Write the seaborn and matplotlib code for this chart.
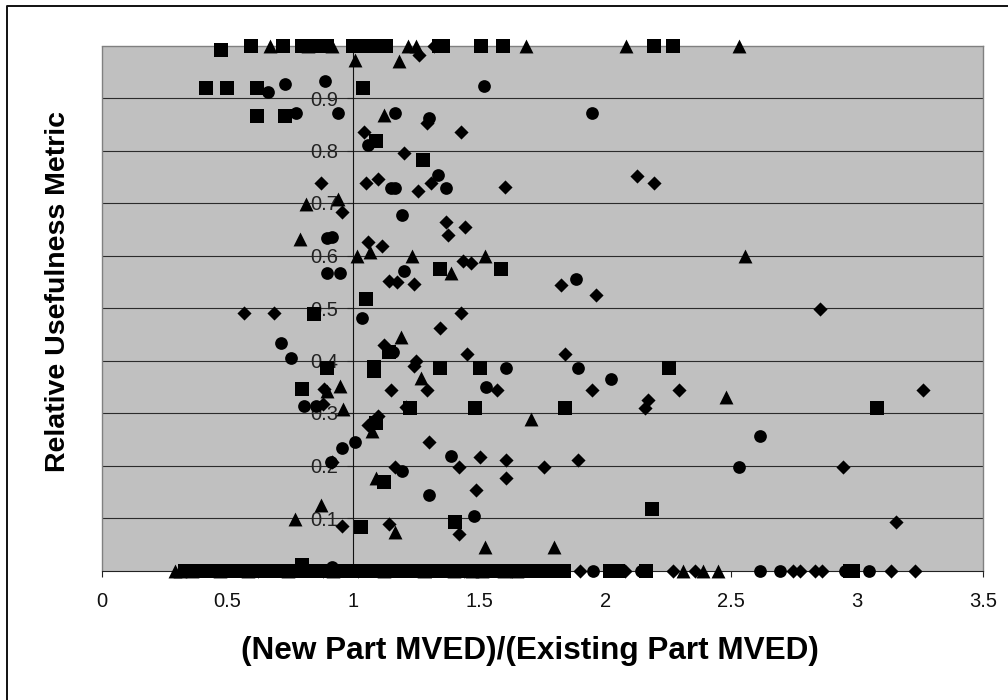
import numpy as np
import pandas as pd
import matplotlib
matplotlib.use("Agg")
import matplotlib.pyplot as plt
from matplotlib.patches import Rectangle
from matplotlib.lines import Line2D
import seaborn as sns

# ---- data -----------------------------------------------------------------
diamond_x = [0.997,1.321,1.262,1.292,1.427,1.044,1.202,0.871,1.052,1.099,1.255,1.308,1.601,2.126,2.193,
             0.954,1.369,1.443,1.374,1.06,1.113,1.142,1.173,1.239,1.434,1.467,1.825,1.962,2.854,
             0.565,0.685,1.427,1.345,1.12,1.451,1.841,1.248,1.239,1.294,1.149,1.57,1.946,2.292,3.261,
             2.17,2.156,0.884,0.88,1.209,1.099,1.06,0.916,1.3,1.503,1.608,1.421,1.758,1.893,2.945,
             1.608,1.488,1.165,3.153,0.954,1.142,1.421]
diamond_y = [1.0,1.0,0.981,0.853,0.836,0.836,0.796,0.738,0.738,0.745,0.723,0.738,0.731,0.752,0.738,
             0.683,0.663,0.654,0.64,0.625,0.618,0.552,0.549,0.545,0.589,0.586,0.543,0.525,0.498,
             0.491,0.491,0.491,0.462,0.43,0.412,0.412,0.4,0.389,0.343,0.343,0.343,0.343,0.343,0.343,
             0.325,0.31,0.346,0.317,0.311,0.295,0.278,0.206,0.244,0.216,0.211,0.198,0.198,0.211,0.198,
             0.176,0.154,0.198,0.093,0.084,0.089,0.07]
square_x = [0.474,0.594,0.721,0.798,0.824,0.844,0.897,0.997,1.03,1.056,1.083,1.109,1.129,1.341,1.355,1.507,1.593,2.194,2.269,
            0.415,0.497,0.616,1.038,0.618,0.729,1.089,1.278,1.345,1.586,1.052,0.843,1.14,
            0.895,1.083,1.083,1.344,1.503,2.253,0.798,1.223,1.481,1.841,3.079,1.089,1.12,2.186,1.03,1.405,0.798]
square_y = [0.992,1.0,1.0,1.0,1.0,1.0,1.0,1.0,1.0,1.0,1.0,1.0,1.0,1.0,1.0,1.0,1.0,1.0,1.0,
            0.919,0.919,0.919,0.919,0.865,0.865,0.818,0.782,0.575,0.575,0.517,0.488,0.416,
            0.386,0.387,0.38,0.386,0.386,0.386,0.346,0.31,0.31,0.31,0.31,0.281,0.169,0.118,0.082,0.093,0.01]
triangle_x = [0.671,0.818,0.917,1.218,1.25,1.685,2.081,2.531,1.007,1.18,1.12,0.94,0.812,0.79,1.014,1.067,1.233,1.524,2.554,
              1.389,1.189,1.27,2.478,0.894,0.948,0.957,1.706,1.076,1.09,0.871,0.769,1.165,1.524,1.796]
triangle_y = [1.0,1.0,1.0,1.0,1.0,1.0,1.0,1.0,0.973,0.971,0.868,0.707,0.698,0.632,0.6,0.606,0.6,0.6,0.6,
              0.567,0.444,0.367,0.331,0.342,0.352,0.308,0.288,0.265,0.176,0.124,0.098,0.073,0.044,0.044]
circle_x = [0.661,0.729,0.887,1.518,1.948,0.774,0.938,1.164,1.299,1.059,1.336,1.149,1.166,1.368,1.194,
            0.895,0.917,0.895,0.946,1.202,1.885,1.036,0.713,0.751,1.156,1.608,1.893,2.021,1.526,
            0.805,0.851,1.006,0.954,0.913,1.389,2.53,2.614,1.194,1.299,1.48,0.917]
circle_y = [0.912,0.927,0.933,0.923,0.872,0.872,0.872,0.872,0.862,0.811,0.753,0.728,0.728,0.728,0.677,
            0.634,0.636,0.567,0.567,0.571,0.556,0.481,0.434,0.404,0.416,0.386,0.386,0.364,0.35,
            0.314,0.314,0.245,0.234,0.206,0.219,0.198,0.256,0.19,0.143,0.103,0.006]

# parts whose usefulness is zero: the crowded strip along the x axis
diamond_zero_x = [0.62,0.88,1.02,1.31,1.44,1.63,1.898,2.077,2.269,2.355,2.746,2.773,2.832,2.859,3.133,3.23]
square_zero_x = [0.33,0.365,0.40,0.435,0.47,0.505,0.54,0.575,0.61,0.645,0.68,0.715,0.75,0.785,0.82,0.855,0.89,0.925,0.96,0.995,
                 1.03,1.065,1.10,1.135,1.17,1.205,1.24,1.275,1.31,1.345,1.38,1.415,1.45,1.487,1.525,1.56,1.595,1.64,1.675,
                 1.71,1.745,1.78,1.81,1.835,2.02,2.05,2.163,2.971,2.985]
triangle_zero_x = [0.292,0.31,0.36,0.47,0.58,0.74,0.92,1.12,1.28,1.4,1.47,1.51,1.6,1.65,2.309,2.388,2.448]
circle_zero_x = [0.55,0.79,1.08,1.36,1.951,2.143,2.614,2.693,2.951,3.048]

x_ticks = [0, 0.5, 1, 1.5, 2, 2.5, 3, 3.5]
x_tick_labels = ["0", "0.5", "1", "1.5", "2", "2.5", "3", "3.5"]
y_ticks = [0.1, 0.2, 0.3, 0.4, 0.5, 0.6, 0.7, 0.8, 0.9]
y_tick_labels = ["0.1", "0.2", "0.3", "0.4", "0.5", "0.6", "0.7", "0.8", "0.9"]

def frame(name, xs, ys, zero_xs):
    return pd.DataFrame({"x": list(xs) + list(zero_xs),
                         "y": list(ys) + [0.0] * len(zero_xs),
                         "series": name})

data = pd.concat([frame("diamond", diamond_x, diamond_y, diamond_zero_x),
                  frame("square", square_x, square_y, square_zero_x),
                  frame("triangle", triangle_x, triangle_y, triangle_zero_x),
                  frame("circle", circle_x, circle_y, circle_zero_x)], ignore_index=True)

sns.set_theme(style="white")
plt.rcParams["font.family"] = ["Liberation Sans", "DejaVu Sans"]

W, H = 1008, 700
fig = plt.figure(figsize=(W / 100, H / 100), dpi=100, facecolor="white")
L, R, T, B = 101.5, 983, 45.5, 570.5
ax = fig.add_axes([L / W, 1 - B / H, (R - L) / W, (B - T) / H], facecolor="#C0C0C0")

sizes = {"diamond": 52, "square": 88, "triangle": 100, "circle": 84}
markers = {"diamond": "D", "square": "s", "triangle": "^", "circle": "o"}
for name, group in data.groupby("series", sort=False):
    sns.scatterplot(data=group, x="x", y="y", marker=markers[name], s=sizes[name],
                    color="black", linewidth=0, clip_on=False, zorder=3, ax=ax, legend=False)

ax.set_xlim(0, 3.5)
ax.set_ylim(0, 1.0)
ax.set_axisbelow(True)
ax.set_xticks(x_ticks, x_tick_labels)
ax.set_yticks(y_ticks, y_tick_labels)
ax.yaxis.grid(True, color="#2b2b2b", lw=0.8)
ax.xaxis.grid(False)

ax.tick_params(axis="x", direction="out", length=4.2, width=0.8, color="#222222",
               labelsize=14.5, labelcolor="#111111", pad=11, bottom=True)
ax.tick_params(axis="y", direction="out", length=4.2, width=0.8, color="#222222",
               labelsize=14.5, labelcolor="#222222", pad=6.5, left=True)

for s in ("top", "right"):
    ax.spines[s].set_color("#808080")
    ax.spines[s].set_linewidth(1.0)
ax.spines["bottom"].set_color("#222222")
ax.spines["bottom"].set_linewidth(0.8)
ax.spines["left"].set_position(("data", 1))
ax.spines["left"].set_color("#111111")
ax.spines["left"].set_linewidth(0.8)
ax.spines["left"].set_zorder(1)
ax.add_patch(Rectangle((0, 0), 0, 1, transform=ax.transAxes, fill=False, ec="#808080", lw=1.0, clip_on=False, zorder=1))

ax.set_xlabel("")
ax.set_ylabel("")
fig.text(529.5 / W, 1 - 650.5 / H, "(New Part MVED)/(Existing Part MVED)", ha="center", va="center",
         fontsize=22.7, fontweight="bold", color="black")
fig.text(58 / W, 1 - 291.5 / H, "Relative Usefulness Metric", ha="center", va="center", rotation=90,
         fontsize=20.5, fontweight="bold", color="black")

# outer chart frame
fig.add_artist(Line2D([7 / W, 7 / W, 1], [0, 1 - 6 / H, 1 - 6 / H], transform=fig.transFigure,
                      color="#111111", lw=1.4))

fig.savefig("out.png", dpi=100)
